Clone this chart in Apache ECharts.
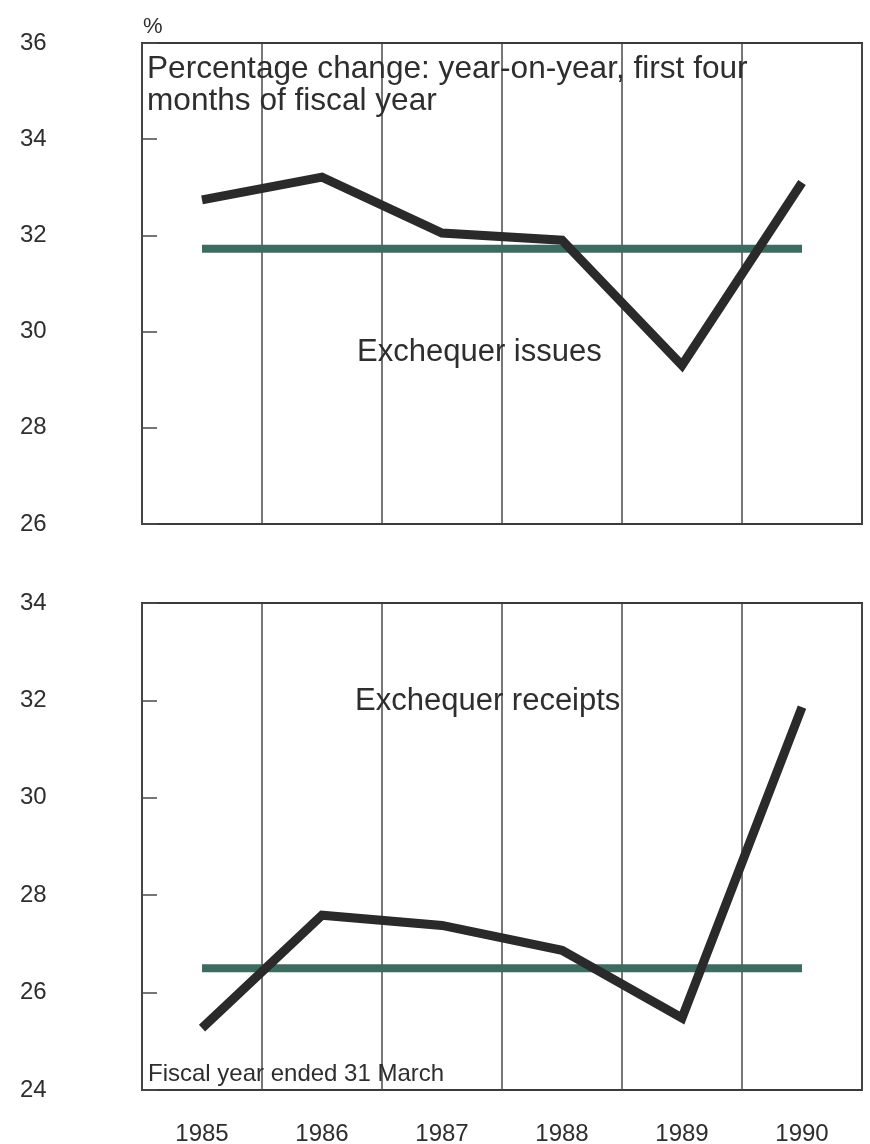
<!DOCTYPE html>
<html>
<head>
<meta charset="utf-8">
<script src="https://cdn.jsdelivr.net/npm/echarts@6/dist/echarts.min.js"></script>
<style>
  html, body { margin: 0; padding: 0; background: #ffffff; }
  #chart { width: 870px; height: 1144px; }
</style>
</head>
<body>
<div id="chart"></div>
<script>
// ---- data ----
const years = ['1985', '1986', '1987', '1988', '1989', '1990'];
const issues = [32.74, 33.21, 32.05, 31.9, 29.3, 33.1];
const issuesAvg = [31.72, 31.72, 31.72, 31.72, 31.72, 31.72];
const receipts = [25.27, 27.59, 27.38, 26.87, 25.48, 31.86];
const receiptsAvg = [26.5, 26.5, 26.5, 26.5, 26.5, 26.5];
const issuesRange = [26, 36];
const receiptsRange = [24, 34];
const yStep = 2;

// ---- styling ----
const FONT = '"Liberation Sans", Arial, Helvetica, sans-serif';
const TEXT = '#2e2e2e';
const BLACK = '#2a2a2a';
const GREEN = '#3e6b5f';
const GRIDC = '#4a4a4a';

const chart = echarts.init(document.getElementById('chart'), null, { renderer: 'canvas' });

function xAxis(gridIndex, showLabels) {
  return {
    type: 'category',
    gridIndex: gridIndex,
    data: years,
    boundaryGap: true,
    axisLine: { show: false },
    axisTick: { show: false },
    axisLabel: {
      show: showLabels,
      color: TEXT,
      fontFamily: FONT,
      fontSize: 24,
      margin: 32
    },
    splitLine: { show: true, lineStyle: { color: GRIDC, width: 1.5 } }
  };
}

function yAxis(gridIndex, range) {
  return {
    type: 'value',
    gridIndex: gridIndex,
    min: range[0],
    max: range[1],
    interval: yStep,
    axisLine: { show: false },
    axisTick: { show: true, inside: true, length: 15, lineStyle: { color: GRIDC, width: 1.5 } },
    axisLabel: {
      color: TEXT,
      fontFamily: FONT,
      fontSize: 24,
      align: 'left',
      margin: 122
    },
    splitLine: { show: false }
  };
}

function lineSeries(idx, data, color, width, z) {
  return {
    type: 'line',
    xAxisIndex: idx,
    yAxisIndex: idx,
    data: data,
    symbol: 'none',
    silent: true,
    z: z,
    lineStyle: { color: color, width: width, cap: 'butt', join: 'miter' }
  };
}

function label(text, x, y, size) {
  return {
    type: 'text',
    x: x,
    y: y,
    silent: true,
    z: 100,
    style: {
      text: text,
      fill: TEXT,
      font: size + 'px ' + FONT,
      align: 'left',
      verticalAlign: 'middle'
    }
  };
}

chart.setOption({
  animation: false,
  backgroundColor: '#ffffff',
  grid: [
    { left: 142, right: 8, top: 43, height: 481, show: true, outerBoundsMode: 'none', containLabel: false, borderColor: '#3a3a3a', borderWidth: 2, backgroundColor: 'transparent' },
    { left: 142, right: 8, top: 603, height: 487, show: true, outerBoundsMode: 'none', containLabel: false, borderColor: '#3a3a3a', borderWidth: 2, backgroundColor: 'transparent' }
  ],
  xAxis: [xAxis(0, false), xAxis(1, true)],
  yAxis: [yAxis(0, issuesRange), yAxis(1, receiptsRange)],
  series: [
    lineSeries(0, issuesAvg, GREEN, 8, 2),
    lineSeries(0, issues, BLACK, 9, 3),
    lineSeries(1, receiptsAvg, GREEN, 8, 2),
    lineSeries(1, receipts, BLACK, 9, 3)
  ],
  graphic: [
    label('%', 143, 27, 22),
    label('Percentage change: year-on-year, first four', 147, 69, 31.6),
    label('months of fiscal year', 147, 101, 31.6),
    label('Exchequer issues', 357, 352, 31),
    label('Exchequer receipts', 355, 701, 31),
    label('Fiscal year ended 31 March', 148, 1074, 24)
  ]
});
</script>
</body>
</html>
